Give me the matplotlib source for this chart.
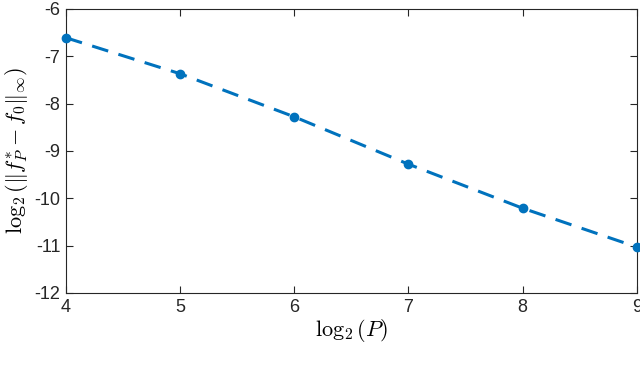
import numpy as np
import matplotlib.pyplot as plt

plt.rcParams['font.family'] = ['Liberation Sans', 'DejaVu Sans']
plt.rcParams['mathtext.fontset'] = 'cm'

log2_P = [4, 5, 6, 7, 8, 9]
log2_err = [-6.61, -7.37, -8.28, -9.28, -10.21, -11.03]
yticks = [-12, -11, -10, -9, -8, -7, -6]

fig = plt.figure(figsize=(6.4, 3.85), dpi=100)
ax = fig.add_axes([0.103, 0.239, 0.892, 0.738])

ax.plot(log2_P, log2_err, '--', color='#0072BD', linewidth=2.2,
        marker='o', markersize=6, dashes=(5.5, 3.5), clip_on=False, zorder=3)

ax.set_xlim(4, 9)
ax.set_ylim(-12, -6)
ax.set_xticks(log2_P)
ax.set_yticks(yticks)
ax.set_yticklabels([str(v) for v in yticks])

axcol = '#262626'
for s in ax.spines.values():
    s.set_color(axcol)
    s.set_linewidth(0.8)
ax.tick_params(direction='in', length=5, width=0.8, colors=axcol,
               labelsize=13, top=True, right=True, pad=4)

ax.set_xlabel(r'$\log_2(P)$', fontsize=16, labelpad=1)
ax.set_ylabel(r'$\log_2(\|f_P^{*}-f_0\|_\infty)$', fontsize=16, labelpad=3)

fig.savefig('out.png', dpi=100)
plt.close(fig)
